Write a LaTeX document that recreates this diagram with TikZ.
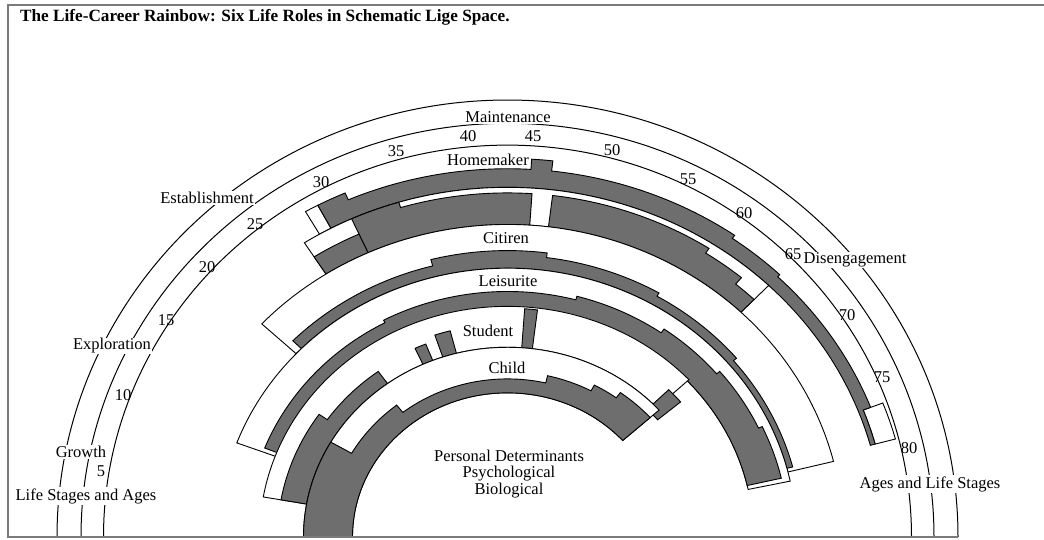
\documentclass[tikz,border=0pt]{standalone}
\usepackage{fontspec}
\setmainfont{Liberation Serif}
\usetikzlibrary{positioning}
\definecolor{RainGray}{HTML}{6E6E6E}
\definecolor{FrameGray}{HTML}{7A7A7A}

\begin{document}
\begin{tikzpicture}[x=1pt,y=1pt,
  lbl/.style={font=\fontsize{16.5}{18}\selectfont, inner sep=1pt},
  cut/.style={lbl, fill=white},
  ring/.style={draw, fill=white, line width=0.9pt},
  shade/.style={draw, fill=RainGray, line width=0.9pt}]
\useasboundingbox (0,0) rectangle (1044,539);

% life stage arcs
\begin{scope}[shift={(507.5,2)}, yscale=0.97]
\foreach \r in {450.5,426.5,404} \draw[line width=1pt] (180:\r) arc (180:0:\r);
\end{scope}

% role bands
\begin{scope}[shift={(507.5,2)}, yscale=0.93]
% homemaker
\draw[ring] (120:376) arc (120:118:376) -- (118:404) arc (118:120:404) -- cycle;
\draw[ring] (21:381) arc (21:15.2:381) -- (15.2:402) arc (15.2:21:402) -- cycle;
\draw[shade] (118:376) arc (118:15.2:376) -- (15.2:381) arc (15.2:21:381) -- (21:389) arc (21:46:389)
  -- (46:392) arc (46:55:392) -- (55:396) arc (55:83.6:396) -- (83.6:407) arc (83.6:86.6:407)
  -- (86.6:396) arc (86.6:113.7:396) -- (113.7:404) arc (113.7:118:404) -- cycle;
% worker
\draw[ring] (122.7:336) arc (122.7:46:336) -- (46:376) arc (46:122.7:376) -- cycle;
\draw[shade] (122.7:336) arc (122.7:114.5:336) -- (114.5:358) arc (114.5:122.7:358) -- cycle;
\draw[shade] (114.5:336) arc (114.5:86.2:336) -- (86.2:370) arc (86.2:106.8:370) -- (106.8:376)
  arc (106.8:114.5:376) -- cycle;
\draw[shade] (83:336) arc (83:46:336) -- (46:355) arc (46:50:355) -- (50:364) arc (50:57:364)
  -- (57:370) arc (57:83:370) -- cycle;
% citizen
\draw[ring] (137:289) arc (137:14:289) -- (14:336) arc (14:137:336) -- cycle;
\draw[shade] (135.5:289) arc (135.5:14.8:289) -- (14.8:295) arc (14.8:40:295) -- (40:299) arc (40:60:299)
  -- (60:303) arc (60:82.6:303) -- (82.6:308) arc (82.6:104.4:308) -- (104.4:301) arc (104.4:135.5:301) -- cycle;
% leisure
\draw[ring] (159.5:246) arc (159.5:12:246) -- (12:289) arc (12:159.5:289) -- cycle;
\draw[shade] (158.5:246) arc (158.5:13:246) -- (13:281) arc (13:25:281) -- (25:277) arc (25:40:277)
  -- (40:273) arc (40:55:273) -- (55:268) arc (55:75:268) -- (75:264) arc (75:118:264)
  -- (118:261) arc (118:158.5:261) -- cycle;
% student
\draw[ring] (170:204) arc (170:43:204) -- (43:248) arc (43:170:248) -- cycle;
\draw[shade] (170:204) arc (170:126:204) -- (126:220) arc (126:145:220) -- (145:230) arc (145:170:230) -- cycle;
\draw[shade] (111.5:204) arc (111.5:114.5:204) -- (114.5:223) arc (114.5:111.5:223) -- cycle;
\draw[shade] (104.5:204) arc (104.5:108.5:204) -- (108.5:229) arc (108.5:104.5:229) -- cycle;
\draw[shade] (83:204) arc (83:86:204) -- (86:246) arc (86:83:246) -- cycle;
\draw[shade] (40:196) arc (40:44.5:196) -- (44.5:226) arc (44.5:40:226) -- cycle;
% child
\draw[ring] (180:155) arc (180:42:155) -- (42:204) arc (42:180:204) -- cycle;
\draw[shade] (180:155) arc (180:42:155) -- (42:192) arc (42:54:192) -- (54:185) arc (54:62:185)
  -- (62:178) arc (62:77:178) -- (77:170) arc (77:128:170) -- (128:180) arc (128:150:180)
  -- (150:204) arc (150:180:204) -- cycle;
\end{scope}

% frame
\draw[FrameGray, line width=2pt] (1044,534) -- (8,534) -- (8,2) -- (958,2);

\node[font=\fontsize{17.2}{19}\selectfont\bfseries, anchor=west, inner sep=0pt] (title) at (20,522)
  {The Life-Career Rainbow: Six Life Roles in Schematic Lige Space.};

% stages
\node[cut] (maint) at (508,422) {Maintenance};
\node[cut] (estab) at (207,341) {Establishment};
\node[cut] (explo) at (112,193) {Exploration};
\node[cut] (growth) at (81,87) {Growth};
\node[cut] (lsa) at (86,43) {Life Stages and Ages};
\node[cut] (diseng) at (855,279) {Disengagement};
\node[cut] (als) at (930,55) {Ages and Life Stages};

% ages
\foreach \a/\p in {5/{101,68},10/{123,144},15/{166,219},20/{207,272},25/{255,315},30/{321,357},
  35/{396,388},40/{468,403},45/{533,403},50/{612,389},55/{688,360},60/{744,326},65/{793,285},
  70/{847,224},75/{882,162},80/{909,91}}
  \node[lbl, inner sep=0pt] (age\a) at (\p) {\a};

% roles
\node[lbl] (homemaker) at (488,379) {Homemaker};
\node[lbl] (citizen) at (506,301) {Citiren};
\node[lbl] (leisure) at (508,258) {Leisurite};
\node[lbl] (student) at (488,208) {Student};
\node[lbl] (child) at (507,171) {Child};
\node[lbl, align=center, font=\fontsize{16.5}{16.5}\selectfont] (personal) at (509,65)
  {Personal Determinants\\Psychological\\Biological};
\end{tikzpicture}
\end{document}
